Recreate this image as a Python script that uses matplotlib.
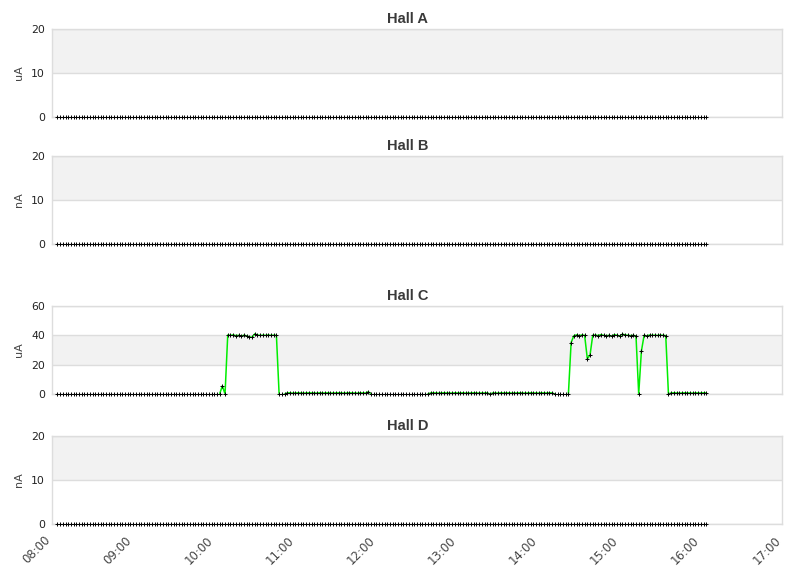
import matplotlib
matplotlib.use("Agg")
import matplotlib.pyplot as plt
import matplotlib.dates as mdates
import matplotlib.transforms as mtransforms
import numpy as np
import pandas as pd

# ---------------- data ----------------
SAMPLE_START = "2024-01-01 08:04"
SAMPLE_END = "2024-01-01 16:04"
SAMPLE_FREQ = "2min"
times = pd.date_range(SAMPLE_START, SAMPLE_END, freq=SAMPLE_FREQ)
N = len(times)  # 241 samples

panel_titles = ["Hall A", "Hall B", "Hall C", "Hall D"]
panel_units = ["uA", "nA", "uA", "nA"]
panel_ymax = [20, 20, 60, 20]
panel_yticks = [[0, 10, 20], [0, 10, 20], [0, 20, 40, 60], [0, 10, 20]]

# Halls A, B, D: every sample reads 0
hall_a = [0.0] * N
hall_b = [0.0] * N
hall_d = [0.0] * N

# Hall C current (uA), 08:04 .. 16:04 every 2 minutes
hall_c = [
    # 08:04 - 10:04
    0, 0, 0, 0, 0, 0, 0, 0, 0, 0,
    0, 0, 0, 0, 0, 0, 0, 0, 0, 0,
    0, 0, 0, 0, 0, 0, 0, 0, 0, 0,
    0, 0, 0, 0, 0, 0, 0, 0, 0, 0,
    0, 0, 0, 0, 0, 0, 0, 0, 0, 0,
    0, 0, 0, 0, 0, 0, 0, 0, 0, 0,
    0,
    # 10:06, 10:08
    5.5, 0,
    # 10:10 - 10:46
    40.2, 40.0, 40.3, 39.8, 40.0, 39.5, 40.1, 39.6, 39.0, 38.6,
    41.0, 40.2, 40.0, 40.1, 40.0, 40.2, 40.0, 40.1, 40.0,
    # 10:48 - 10:52
    0, 0, 0,
    # 10:54 - 11:52
    0.7, 0.8, 0.6, 0.7, 0.8, 0.7, 0.6, 0.7, 0.8, 0.7,
    0.7, 0.6, 0.8, 0.7, 0.7, 0.8, 0.6, 0.7, 0.7, 0.8,
    0.7, 0.6, 0.7, 0.8, 0.7, 0.7, 0.6, 0.8, 0.7, 0.7,
    # 11:54
    1.5,
    # 11:56 - 12:38
    0, 0, 0, 0, 0, 0, 0, 0, 0, 0, 0,
    0, 0, 0, 0, 0, 0, 0, 0, 0, 0, 0,
    # 12:40 - 14:10
    0.7, 0.8, 0.7, 0.6, 0.7, 0.8, 0.7, 0.7, 0.6, 0.8,
    0.7, 0.7, 0.8, 0.6, 0.7, 0.7, 0.8, 0.7, 0.6, 0.7,
    0.7, 0.8, 0.0, 0.7, 0.7, 0.6, 0.8, 0.7, 0.7, 0.8,
    0.6, 0.7, 0.7, 0.8, 0.7, 0.6, 0.7, 0.8, 0.7, 0.7,
    0.6, 0.8, 0.7, 0.7, 0.8, 0.7,
    # 14:12 - 14:22
    0, 0, 0, 0, 0, 0,
    # 14:24, 14:26
    35.0, 39.7,
    # 14:28 - 14:34
    40.3, 39.8, 40.2, 40.0,
    # 14:36, 14:38
    24.0, 26.6,
    # 14:40 - 15:12
    40.0, 40.2, 39.8, 40.5, 40.0, 39.7, 40.0, 39.4, 40.5, 40.0,
    39.6, 40.8, 40.3, 40.0, 39.8, 40.0, 39.5,
    # 15:14, 15:16
    0, 29.3,
    # 15:18 - 15:34
    40.0, 39.6, 40.2, 40.0, 40.1, 39.9, 40.2, 40.0, 39.8,
    # 15:36
    0,
    # 15:38 - 16:04
    0.7, 0.8, 0.7, 0.6, 0.7, 0.8, 0.7, 0.7, 0.6, 0.8,
    0.7, 0.7, 0.8, 0.7,
]

series = [hall_a, hall_b, hall_c, hall_d]

XLIM_START = "2024-01-01 08:00"
XLIM_END = "2024-01-01 17:00"


def hide_flat_zero(vals):
    """Mask samples whose value and both neighbours are zero (the green
    trace is not visible along the zero baseline in the original)."""
    v = np.asarray(vals, dtype=float)
    prev = np.r_[0.0, v[:-1]]
    nxt = np.r_[v[1:], 0.0]
    keep = (v != 0) | (prev != 0) | (nxt != 0)
    return np.ma.masked_where(~keep, v)


# ---------------- figure ----------------
W, H = 811, 578
fig = plt.figure(figsize=(W / 100, H / 100), dpi=100)

# axes boxes in pixels: (top, bottom)
boxes = [(29, 117), (156, 244), (306, 394), (436, 524)]
left_px, right_px = 52, 782

GRID = "#dddddd"
BAND = "#f2f2f2"

for k, (top, bot) in enumerate(boxes):
    ax = fig.add_axes([left_px / W, (H - bot) / H,
                       (right_px - left_px) / W, (bot - top) / H])
    yt = panel_yticks[k]
    for j in range(len(yt) - 1):
        if j % 2 == 1:
            ax.axhspan(yt[j], yt[j + 1], color=BAND, zorder=0, lw=0)
    for v in yt:
        ax.axhline(v, color=GRID, lw=1, zorder=1)
    ax.plot(times, hide_flat_zero(series[k]), color="#00ee00", lw=1.1, zorder=3,
            solid_joinstyle="round")
    ax.plot(times, series[k], ls="none", marker="+", ms=2.6, mew=0.7,
            color="black", zorder=5, clip_on=False)

    ax.set_xlim(pd.Timestamp(XLIM_START), pd.Timestamp(XLIM_END))
    ax.set_ylim(0, panel_ymax[k])
    ax.set_yticks(yt)
    ax.tick_params(axis="y", length=0, pad=5, labelsize=7.8, labelcolor="#222222")
    ax.xaxis.set_major_locator(mdates.HourLocator())
    ax.xaxis.set_major_formatter(mdates.DateFormatter("%H:%M"))
    if k == 3:
        ax.tick_params(axis="x", length=0, pad=7, labelsize=8.5, labelcolor="#444444")
        offset = mtransforms.ScaledTranslation(-8 / 100, 0, fig.dpi_scale_trans)
        for lab in ax.get_xticklabels():
            lab.set_rotation(45)
            lab.set_ha("right")
            lab.set_va("top")
            lab.set_rotation_mode("anchor")
            lab.set_transform(lab.get_transform() + offset)
    else:
        ax.tick_params(axis="x", length=0, labelbottom=False)
    for s in ax.spines.values():
        s.set_color(GRID)
        s.set_linewidth(1)
        s.set_zorder(4)
    ax.set_facecolor("white")
    ax.set_ylabel(panel_units[k], fontsize=8, color="#444444")
    ax.yaxis.set_label_coords((24 - left_px) / (right_px - left_px), 0.5)

    fig.text(408 / W, (H - (top - 10)) / H, panel_titles[k],
             ha="center", va="center", fontsize=10.5, fontweight="bold",
             family="Liberation Sans", color="#3a3a3a")

fig.savefig("out.png", dpi=100)
